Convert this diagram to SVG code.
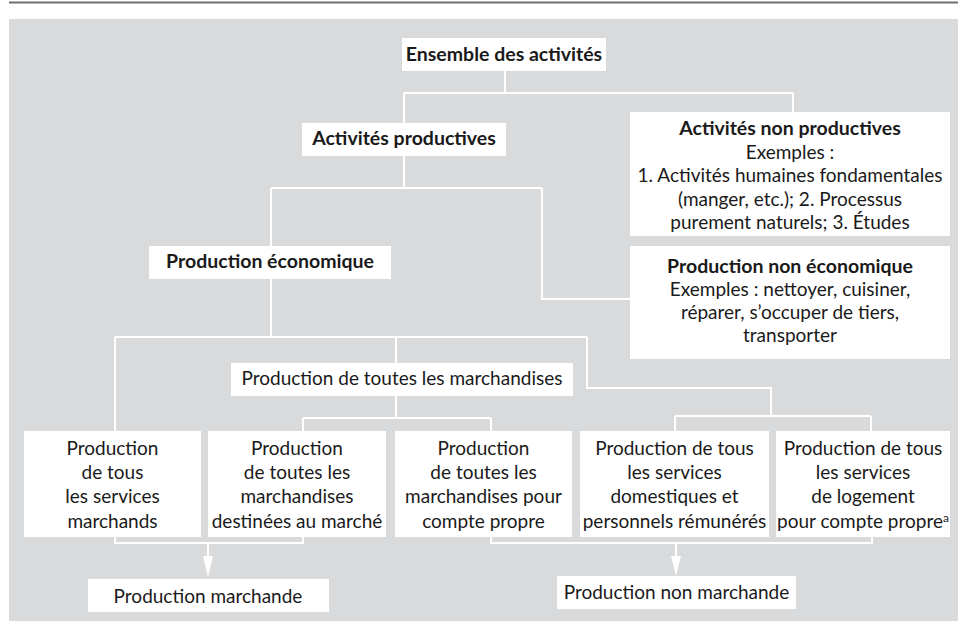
<svg xmlns="http://www.w3.org/2000/svg" width="958" height="621" viewBox="0 0 958 621">
<style>
.bg{fill:#d9dadc}
.box{fill:#ffffff}
.t{font-family:Lato,"Liberation Sans",sans-serif;font-size:19px;fill:#1a1a1a;text-anchor:middle}
.b{font-weight:bold;font-size:19.5px}
.ln{fill:none;stroke:#ffffff;stroke-width:2}
.ah{fill:#ffffff}
</style>
<rect x="0" y="0" width="958" height="621" fill="#ffffff"/>
<line x1="9" y1="2.5" x2="958" y2="2.5" stroke="#6e6e6e" stroke-width="2"/>
<rect class="bg" x="9" y="19" width="949" height="602"/>
<g id="connectors">
<path class="ln" d="M505 71V93M404 93H793M404 93V123M793 93V112"/>
<path class="ln" d="M404 156V188M271 188H542M271 188V246M542 188V299H630"/>
<path class="ln" d="M271 279V337M115 337H587M115 337V431M396 337V363M587 337V388H771V416M675 416H871M675 416V431M871 416V431"/>
<path class="ln" d="M396 396V418M303 418H491M303 418V431M491 418V431"/>
<path class="ln" d="M115 537V543H303V537M208 543V557"/>
<path class="ln" d="M491 537V543H872V537M676 543V557"/>
<polygon class="ah" points="203,556 213,556 208,577"/>
<polygon class="ah" points="671,556 681,556 676,576"/>
</g>
<g id="ensemble">
<rect class="box" x="402" y="38" width="204" height="33"/>
<text class="t b" x="504" y="61">Ensemble des activités</text>
</g>
<g id="productives">
<rect class="box" x="302" y="123" width="204" height="33"/>
<text class="t b" x="404" y="145">Activités productives</text>
</g>
<g id="non-productives">
<rect class="box" x="630" y="112" width="320" height="124"/>
<text class="t" x="790" y="135"><tspan class="b">Activités non productives</tspan><tspan x="790" dy="23.5">Exemples :</tspan><tspan x="790" dy="23.5">1. Activités humaines fondamentales</tspan><tspan x="790" dy="23.5">(manger, etc.); 2. Processus</tspan><tspan x="790" dy="23.5">purement naturels; 3. Études</tspan></text>
</g>
<g id="prod-eco">
<rect class="box" x="149" y="246" width="242" height="33"/>
<text class="t b" x="270" y="268">Production économique</text>
</g>
<g id="prod-non-eco">
<rect class="box" x="630" y="246" width="320" height="113"/>
<text class="t" x="790" y="273"><tspan class="b">Production non économique</tspan><tspan x="790" dy="23">Exemples : nettoyer, cuisiner,</tspan><tspan x="790" dy="23">réparer, s’occuper de tiers,</tspan><tspan x="790" dy="23">transporter</tspan></text>
</g>
<g id="marchandises">
<rect class="box" x="231" y="363" width="342" height="33"/>
<text class="t" x="402" y="385">Production de toutes les marchandises</text>
</g>
<g id="services-marchands">
<rect class="box" x="24" y="431" width="177" height="106"/>
<text class="t" x="112.5" y="455"><tspan>Production</tspan><tspan x="112.5" dy="24.2">de tous</tspan><tspan x="112.5" dy="24.2">les services</tspan><tspan x="112.5" dy="24.2">marchands</tspan></text>
</g>
<g id="marchandises-marche">
<rect class="box" x="208" y="431" width="178" height="106"/>
<text class="t" x="297" y="455"><tspan>Production</tspan><tspan x="297" dy="24.2">de toutes les</tspan><tspan x="297" dy="24.2">marchandises</tspan><tspan x="297" dy="24.2">destinées au marché</tspan></text>
</g>
<g id="marchandises-propre">
<rect class="box" x="395" y="431" width="177" height="106"/>
<text class="t" x="483.5" y="455"><tspan>Production</tspan><tspan x="483.5" dy="24.2">de toutes les</tspan><tspan x="483.5" dy="24.2">marchandises pour</tspan><tspan x="483.5" dy="24.2">compte propre</tspan></text>
</g>
<g id="services-domestiques">
<rect class="box" x="580" y="431" width="189" height="106"/>
<text class="t" x="674.5" y="455"><tspan>Production de tous</tspan><tspan x="674.5" dy="24.2">les services</tspan><tspan x="674.5" dy="24.2">domestiques et</tspan><tspan x="674.5" dy="24.2">personnels rémunérés</tspan></text>
</g>
<g id="services-logement">
<rect class="box" x="776" y="431" width="174" height="106"/>
<text class="t" x="863" y="455"><tspan>Production de tous</tspan><tspan x="863" dy="24.2">les services</tspan><tspan x="863" dy="24.2">de logement</tspan><tspan x="863" dy="24.2">pour compte propre<tspan font-size="12" dy="-6">a</tspan></tspan></text>
</g>
<g id="marchande">
<rect class="box" x="88" y="579" width="241" height="33"/>
<text class="t" x="208" y="603">Production marchande</text>
</g>
<g id="non-marchande">
<rect class="box" x="557" y="576" width="239" height="33"/>
<text class="t" x="676.5" y="599">Production non marchande</text>
</g>
</svg>
